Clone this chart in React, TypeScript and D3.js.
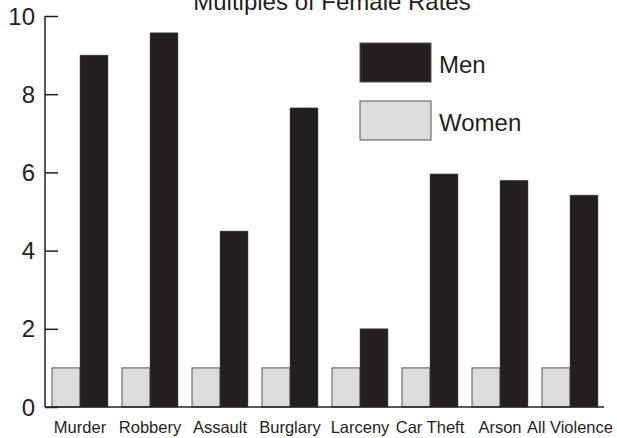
import React, { useEffect, useRef } from 'react';
import * as d3 from 'd3';

const CATEGORIES = ['Murder', 'Robbery', 'Assault', 'Burglary', 'Larceny', 'Car Theft', 'Arson', 'All Violence'];
const MEN = [9.0, 9.57, 4.5, 7.65, 2.0, 5.96, 5.8, 5.42];
const WOMEN = [1, 1, 1, 1, 1, 1, 1, 1];
const Y_TICKS = [0, 2, 4, 6, 8, 10];
const SERIES = ['Women', 'Men'];

const App: React.FC = () => {
  const svgRef = useRef<SVGSVGElement>(null);

  useEffect(() => {
    if (!svgRef.current) return;
    const svg = d3.select(svgRef.current);
    svg.selectAll('*').remove();

    const font = '"Liberation Sans", Arial, sans-serif';
    const menColor = '#231f20';
    const womenColor = '#dcdcdc';

    const x = d3.scaleBand<string>()
      .domain(CATEGORIES)
      .range([45, 605])
      .paddingInner(0.2)
      .paddingOuter(0.1);

    const xs = d3.scaleBand<string>()
      .domain(SERIES)
      .range([0, x.bandwidth()]);

    const y = d3.scaleLinear().domain([0, 10]).range([407, 16]);

    // title (top is cut off, as in the original)
    svg.append('text')
      .attr('x', 332)
      .attr('y', 10)
      .attr('text-anchor', 'middle')
      .attr('font-family', font)
      .attr('font-size', 24)
      .attr('fill', '#231f20')
      .text('Multiples of Female Rates');

    // bars
    const groups = svg.append('g')
      .selectAll('g')
      .data(CATEGORIES)
      .enter()
      .append('g')
      .attr('transform', d => `translate(${x(d)},0)`);

    groups.append('rect')
      .attr('x', xs('Women')!)
      .attr('y', (_, i) => y(WOMEN[i]))
      .attr('width', xs.bandwidth())
      .attr('height', (_, i) => y(0) - y(WOMEN[i]))
      .attr('fill', womenColor)
      .attr('stroke', '#555')
      .attr('stroke-width', 1);

    groups.append('rect')
      .attr('x', xs('Men')!)
      .attr('y', (_, i) => y(MEN[i]))
      .attr('width', xs.bandwidth())
      .attr('height', (_, i) => y(0) - y(MEN[i]))
      .attr('fill', menColor)
      .attr('stroke', '#555')
      .attr('stroke-width', 0.5);

    // y axis, ticks pointing inward
    const yAxis = svg.append('g')
      .attr('transform', 'translate(45,0)')
      .call(d3.axisRight(y).tickValues(Y_TICKS).tickSize(13).tickFormat(() => ''));
    yAxis.select('.domain').remove();
    yAxis.selectAll('line').attr('stroke', '#231f20').attr('stroke-width', 1.5);
    svg.append('line')
      .attr('x1', 45).attr('x2', 45)
      .attr('y1', y(10)).attr('y2', y(0))
      .attr('stroke', '#231f20').attr('stroke-width', 1.5);

    svg.append('g')
      .selectAll('text')
      .data(Y_TICKS)
      .enter()
      .append('text')
      .attr('x', 35)
      .attr('y', d => y(d))
      .attr('dy', '0.36em')
      .attr('text-anchor', 'end')
      .attr('font-family', font)
      .attr('font-size', 24)
      .attr('fill', '#231f20')
      .text(d => String(d));

    // x axis baseline
    svg.append('line')
      .attr('x1', 45).attr('x2', 604)
      .attr('y1', y(0)).attr('y2', y(0))
      .attr('stroke', '#231f20').attr('stroke-width', 1.5);

    svg.append('g')
      .selectAll('text')
      .data(CATEGORIES)
      .enter()
      .append('text')
      .attr('x', d => x(d)! + x.bandwidth() / 2)
      .attr('y', 433)
      .attr('text-anchor', 'middle')
      .attr('font-family', font)
      .attr('font-size', 16.5)
      .attr('fill', '#231f20')
      .text(d => d);

    // legend
    const legend = [
      { label: 'Men', color: menColor, top: 43 },
      { label: 'Women', color: womenColor, top: 101 },
    ];
    const lg = svg.append('g')
      .selectAll('g')
      .data(legend)
      .enter()
      .append('g');
    lg.append('rect')
      .attr('x', 360)
      .attr('y', d => d.top)
      .attr('width', 71)
      .attr('height', 39)
      .attr('fill', d => d.color)
      .attr('stroke', '#555')
      .attr('stroke-width', 1);
    lg.append('text')
      .attr('x', 439)
      .attr('y', d => d.top + 21)
      .attr('dy', '0.36em')
      .attr('font-family', font)
      .attr('font-size', 24)
      .attr('fill', '#231f20')
      .text(d => d.label);
  }, []);

  return (
    <svg
      ref={svgRef}
      width={617}
      height={438}
      style={{ position: 'absolute', left: 0, top: 0, background: '#fff' }}
    />
  );
};

export default App;
